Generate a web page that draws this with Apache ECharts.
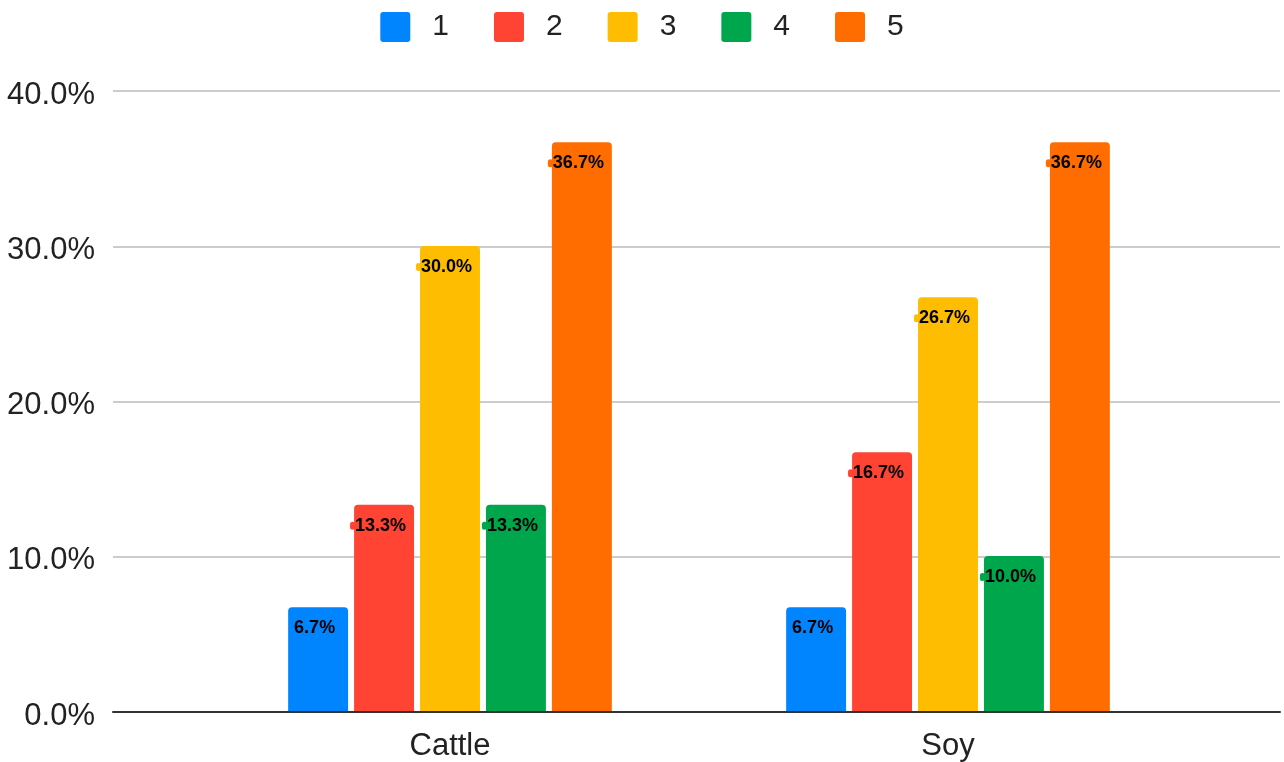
<!DOCTYPE html>
<html>
<head>
<meta charset="utf-8">
<script src="https://cdn.jsdelivr.net/npm/echarts@6/dist/echarts.min.js"></script>
<style>
  html, body { margin: 0; padding: 0; background: #fff; }
  #chart { width: 1284px; height: 762px; }
</style>
</head>
<body>
<div id="chart"></div>
<script>
// Share of responses (%) per rating, by commodity
const categories = ['Cattle', 'Soy'];
const seriesNames = ['1', '2', '3', '4', '5'];
const rating1 = [6.7, 6.7];
const rating2 = [13.3, 16.7];
const rating3 = [30.0, 26.7];
const rating4 = [13.3, 10.0];
const rating5 = [36.7, 36.7];
const yTicks = [0, 10, 20, 30, 40];

const colors = ['#0085ff', '#ff4433', '#ffbd00', '#00a64c', '#ff6d00'];
const values = [rating1, rating2, rating3, rating4, rating5];
const FONT = '"Liberation Sans", Arial, sans-serif';

const squareIcon = 'path://M3,0 H27 A3,3 0 0 1 30,3 V27 A3,3 0 0 1 27,30 H3 A3,3 0 0 1 0,27 V3 A3,3 0 0 1 3,0 Z';

const chart = echarts.init(document.getElementById('chart'), null, { renderer: 'canvas' });

const series = seriesNames.map((name, i) => ({
  name: name,
  type: 'bar',
  xAxisIndex: 1,
  yAxisIndex: 1,
  data: values[i],
  itemStyle: { color: colors[i], borderRadius: [4, 4, 0, 0] },
  barGap: '10%',
  barCategoryGap: '35%',
  label: {
    show: true,
    position: ['50%', 21],
    align: 'center',
    verticalAlign: 'middle',
    offset: [-6, 0],
    formatter: p => '{d|}{v|' + p.value.toFixed(1) + '%}',
    rich: {
      d: { width: 5, height: 8, backgroundColor: colors[i], borderRadius: 4 },
      v: { fontFamily: FONT, fontSize: 18, fontWeight: 'bold', color: '#000' }
    }
  }
}));

chart.setOption({
  animation: false,
  textStyle: { fontFamily: FONT },
  legend: {
    top: 7,
    left: 'center',
    itemWidth: 30,
    itemHeight: 30,
    itemGap: 45,
    icon: squareIcon,
    data: seriesNames,
    textStyle: { fontSize: 30, color: '#222', fontFamily: FONT, padding: [0, 0, 0, 17] }
  },
  grid: [
    { left: 113, right: 4, top: 91, bottom: 50 },
    { left: 201, right: 87, top: 91, bottom: 50 }
  ],
  xAxis: [
    {
      gridIndex: 0,
      type: 'value',
      min: 0,
      max: 1,
      axisLine: { show: true, lineStyle: { color: '#333', width: 2 } },
      axisTick: { show: false },
      axisLabel: { show: false },
      splitLine: { show: false }
    },
    {
      gridIndex: 1,
      type: 'category',
      data: categories,
      axisLine: { show: false },
      axisTick: { show: false },
      axisLabel: { fontSize: 31, color: '#222', margin: 20, fontFamily: FONT }
    }
  ],
  yAxis: [
    {
      gridIndex: 0,
      type: 'value',
      min: yTicks[0],
      max: yTicks[yTicks.length - 1],
      interval: 10,
      axisLine: { show: false },
      axisTick: { show: false },
      axisLabel: {
        margin: 18,
        formatter: v => '{t|' + v.toFixed(1) + '%}',
        rich: {
          t: { fontSize: 31, color: '#222', fontFamily: FONT, padding: [8, 0, 0, 0] }
        }
      },
      splitLine: { lineStyle: { color: '#cccccc', width: 2 } }
    },
    {
      gridIndex: 1,
      type: 'value',
      min: yTicks[0],
      max: yTicks[yTicks.length - 1],
      interval: 10,
      show: false,
      splitLine: { show: false }
    }
  ],
  series: series
});
</script>
</body>
</html>
